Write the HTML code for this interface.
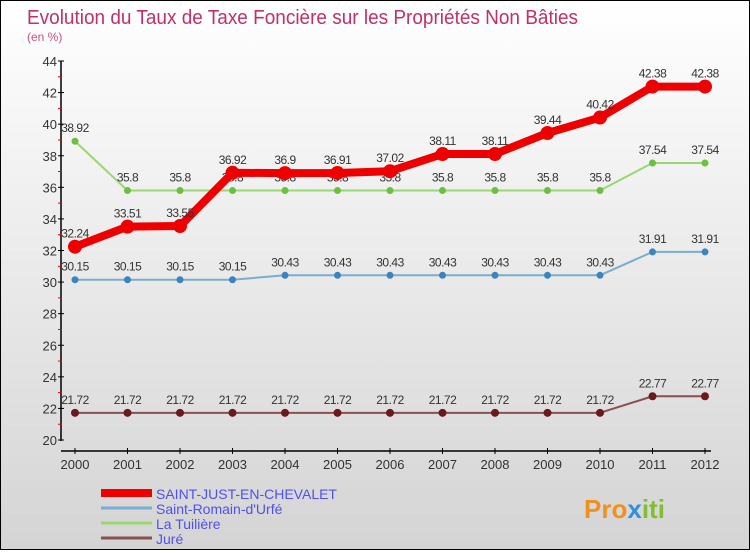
<!DOCTYPE html>
<html><head><meta charset="utf-8"><style>
body{margin:0;width:750px;height:550px;overflow:hidden;font-family:"Liberation Sans",sans-serif}
#c{position:absolute;left:0;top:0;width:748px;height:548px;border:1px solid #000;background:linear-gradient(#fff,#d4d4d4)}
</style></head><body>
<div id="c">
<svg id="s" width="748" height="548"></svg>
</div>
<script>
const years=["2000","2001","2002","2003","2004","2005","2006","2007","2008","2009","2010","2011","2012"];
const yTicks=[20,22,24,26,28,30,32,34,36,38,40,42,44];
const saintJust=[32.24,33.51,33.55,36.92,36.9,36.91,37.02,38.11,38.11,39.44,40.42,42.38,42.38];
const saintRomain=[30.15,30.15,30.15,30.15,30.43,30.43,30.43,30.43,30.43,30.43,30.43,31.91,31.91];
const tuiliere=[38.92,35.8,35.8,35.8,35.8,35.8,35.8,35.8,35.8,35.8,35.8,37.54,37.54];
const jure=[21.72,21.72,21.72,21.72,21.72,21.72,21.72,21.72,21.72,21.72,21.72,22.77,22.77];
const seriesNames=["SAINT-JUST-EN-CHEVALET","Saint-Romain-d'Urfé","La Tuilière","Juré"];
const s=document.getElementById('s');const NS='http://www.w3.org/2000/svg';
function X(i){return 74+i*52.5;}
function Y(v){return 439-(v-20)*379/24;}
function el(t,a,txt,name){const e=document.createElementNS(NS,t);for(const k in a)e.setAttribute(k,a[k]);if(txt!==undefined)e.textContent=txt;


s.appendChild(e);return e;}
el('text',{x:26,y:23,'font-size':20,fill:'#c0306a',textLength:551,lengthAdjust:'spacingAndGlyphs'},'Evolution du Taux de Taxe Foncière sur les Propriétés Non Bâties','chart-title');
el('text',{x:26,y:40,'font-size':12,fill:'#d05080'},'(en %)','chart-subtitle');
el('line',{x1:60,y1:60,x2:60,y2:440,stroke:'#000','stroke-width':1.5},undefined,'y-axis');
el('line',{x1:60,y1:450,x2:710,y2:450,stroke:'#000','stroke-width':1.5},undefined,'x-axis');
yTicks.forEach(v=>{el('line',{x1:57,y1:Y(v),x2:63,y2:Y(v),stroke:'#000'},undefined,'y-tick');
el('text',{x:56,y:Y(v)+5,'font-size':13,fill:'#333','text-anchor':'end'},v,'y-tick-label');
if(v<44)el('line',{x1:57,y1:Y(v+1),x2:61,y2:Y(v+1),stroke:'#e00'},undefined,'y-minor-tick');});
years.forEach((y,i)=>{el('line',{x1:X(i),y1:447,x2:X(i),y2:453,stroke:'#000'},undefined,'x-tick');
el('text',{x:X(i),y:468,'font-size':13,fill:'#333','text-anchor':'middle'},y,'x-tick-label');});
function series(d,col,w,r,dot,name){
el('polyline',{points:d.map((v,i)=>X(i)+','+Y(v)).join(' '),fill:'none',stroke:col,'stroke-width':w,'stroke-linejoin':'round'},undefined,name+'-line');
d.forEach((v,i)=>{el('circle',{cx:X(i),cy:Y(v),r:r,fill:dot},undefined,name+'-point');
el('text',{x:X(i),y:Y(v)-9,'font-size':12,fill:'#333','text-anchor':'middle','letter-spacing':'-0.5'},String(v),name+'-value-label');});}
series(jure,'#8a5050',2,4,'#6a1a1a','jure');
series(saintRomain,'#7aaed0',2,3.5,'#3c84c0','saint-romain');
series(tuiliere,'#99d870',2,3.5,'#6cc040','tuiliere');
series(saintJust,'#ee0000',8,7,'#ee0000','saint-just');
const lc=['#ee0000','#7aaed0','#99d870','#8a5050'],lw=[8,3,3,3];
seriesNames.forEach((n,i)=>{const y=492+i*15;
el('line',{x1:100,y1:y,x2:151,y2:y,stroke:lc[i],'stroke-width':lw[i]},undefined,'legend-swatch');
el('text',{x:155,y:y+6,'font-size':14,fill:'#5050f0'},n,'legend-label');});
const logo=el('text',{x:583,y:517,'font-size':26,'font-weight':'bold'},undefined,'logo');
[['Pro','#f09020'],['x','#3090e0'],['iti','#80c030']].forEach(p=>{const t=document.createElementNS(NS,'tspan');t.setAttribute('fill',p[1]);t.textContent=p[0];


logo.appendChild(t);});
</script>
</body></html>
